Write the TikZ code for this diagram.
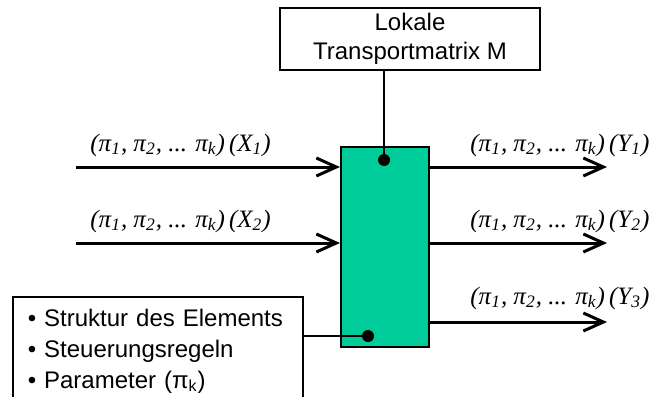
\documentclass[tikz,border=0pt]{standalone}
\usepackage{fontspec}
\setmainfont{Liberation Sans}
\newfontfamily\tmsfont{Liberation Serif}
\usetikzlibrary{arrows.meta, positioning, calc}
\definecolor{blockgreen}{HTML}{00CC99}
\newcommand{\flowlabel}[2]{%
  {\tmsfont\itshape (π\textsubscript{1}, π\textsubscript{2}, ... π\textsubscript{k})\,(#1\textsubscript{#2})}}

\begin{document}
\begin{tikzpicture}[x=0.5pt, y=-0.5pt, font=\fontsize{12}{15}\selectfont,
      >={Straight Barb[length=10pt, width=9pt]},
      flow/.style={->, line width=1.5pt},
      link/.style={line width=0.75pt},
      infobox/.style={draw, line width=0.75pt, fill=white, inner sep=0pt},
      flowtext/.style={anchor=west, inner xsep=0pt, font=\fontsize{12.5}{15}\selectfont},
      pin/.style={circle, fill=black, inner sep=0pt, minimum size=6pt}]
    \useasboundingbox (0,0) rectangle (651,396);
    \clip (0,0) rectangle (651,396);
    \node[draw, fill=blockgreen, line width=0.75pt, minimum width=44pt,
          minimum height=100pt, inner sep=0pt, anchor=north west] (elem) at (340,146) {};
    \node[infobox, minimum width=130pt, minimum height=31pt, align=center,
          font=\fontsize{12}{14.5}\selectfont] (matrix) at (410,39) {Lokale\\Transportmatrix M};
    \node[infobox, anchor=north west, minimum width=145pt, minimum height=60pt,
          align=left, inner xsep=7.5pt, inner ysep=6pt, text width=130pt,
          font=\fontsize{12}{15.5}\selectfont] (params) at (12,296)
          {• Struktur des Elements\\• Steuerungsregeln\\• Parameter (π\textsubscript{k})\\ \strut};
    \coordinate (dot1) at (384,160);
    \coordinate (dot2) at (368,336);
    \draw[link] (dot1) -- (dot1 |- matrix.south);
    \draw[link] (dot2) -- (dot2 -| params.east);
    \node[pin] at (dot1) {};
    \node[pin] at (dot2) {};
    % inputs
    \coordinate (in1) at (76,167);
    \coordinate (in2) at (76,243);
    \draw[flow] (in1) -- (in1 -| elem.west);
    \draw[flow] (in2) -- (in2 -| elem.west);
    \node[flowtext] (lx1) at (90,145) {\flowlabel{X}{1}};
    \node[flowtext] (lx2) at (90,221) {\flowlabel{X}{2}};
    % outputs
    \coordinate (out1) at (607,167);
    \coordinate (out2) at (607,243);
    \coordinate (out3) at (607,322);
    \draw[flow] (out1 -| elem.east) -- (out1);
    \draw[flow] (out2 -| elem.east) -- (out2);
    \draw[flow] (out3 -| elem.east) -- (out3);
    \node[flowtext] (ly1) at (470,145) {\flowlabel{Y}{1}};
    \node[flowtext] (ly2) at (470,221) {\flowlabel{Y}{2}};
    \node[flowtext] (ly3) at (470,298) {\flowlabel{Y}{3}};
\end{tikzpicture}
\end{document}
